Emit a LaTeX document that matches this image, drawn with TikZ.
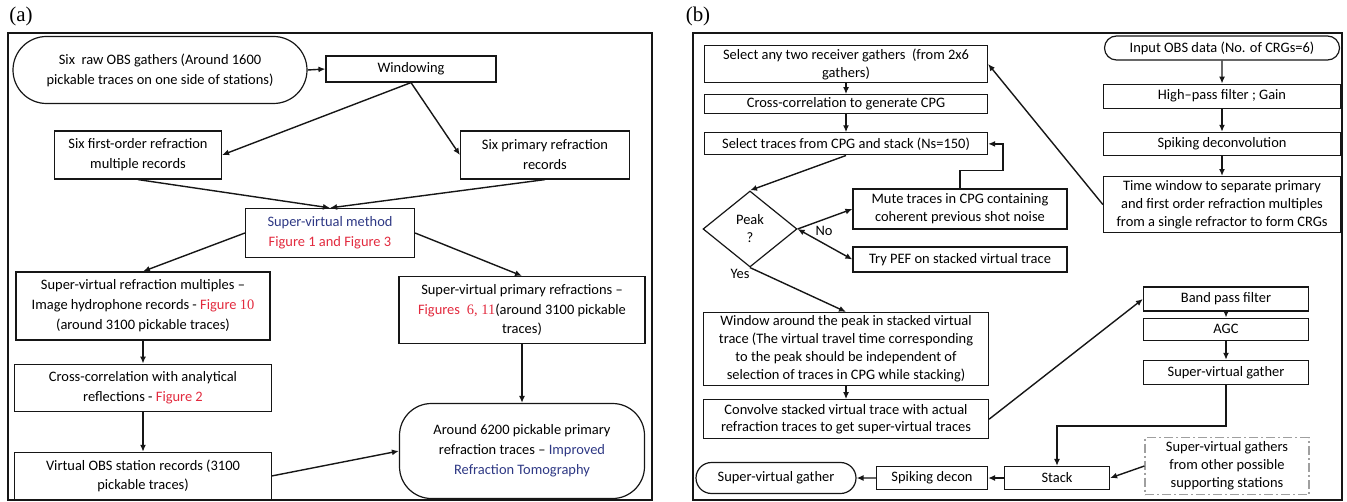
\documentclass[tikz,border=0pt]{standalone}
\usepackage{fontspec}
\setmainfont{Carlito}
\newfontfamily\serifnum{Liberation Serif}
\usepackage{xcolor}
\usepackage{tikz}
\usetikzlibrary{shapes.geometric, shapes.misc, arrows.meta, positioning, calc}
\definecolor{figred}{RGB}{226, 42, 62}
\definecolor{svblue}{RGB}{46, 56, 132}
\definecolor{stroke}{RGB}{22, 22, 22}
\tikzset{
  procbox/.style={
    rectangle, draw=stroke, line width=1.2bp,
    align=center, inner sep=1bp
  },
  termbox/.style={
    rounded rectangle, draw=stroke, line width=1.2bp,
    align=center, inner sep=1bp
  },
  decisionbox/.style={
    diamond, draw=stroke, line width=1.2bp, align=center, inner sep=0pt
  },
  dashdotbox/.style={
    procbox, draw=gray!75, dash pattern=on 9bp off 3bp on 2bp off 3bp
  },
  flowline/.style={
    draw=stroke, -{Latex[length=7bp, width=6bp]}, line width=1.4bp
  },
  bidirline/.style={
    draw=stroke, {Latex[length=7bp, width=6bp]}-{Latex[length=7bp, width=6bp]}, line width=1.4bp
  },
  panelframe/.style={draw=stroke, line width=2bp},
  panellabel/.style={font=\serifnum\fontsize{21}{21}\selectfont, inner sep=0pt}
}

\begin{document}
\begin{tikzpicture}[x=1bp, y=-1bp]

  \useasboundingbox (0,0) rectangle (1347,502);

  % Panel frames and labels
  \node[panellabel] (labA) at (21,16) {(a)};
  \node[panellabel] (labB) at (698,16) {(b)};
  \draw[panelframe] (8,33) rectangle (652,500);
  \draw[panelframe] (693,33) rectangle (1342,500);

  % Panel (a): super-virtual workflow
  \begin{scope}[every node/.append style={font=\fontsize{14.5}{20}\selectfont}]
    \node[termbox, minimum width=296bp, minimum height=67bp] (rawobs) at (160,70)
      {Six\ \ raw OBS gathers (Around 1600\\pickable traces on one side of stations)};
    \node[procbox, minimum width=170bp, minimum height=26bp] (windowing) at (411,69) {Windowing};
    \node[procbox, minimum width=167bp, minimum height=48bp] (firstord) at (138,155)
      {Six first-order refraction\\multiple records};
    \node[procbox, minimum width=169bp, minimum height=48bp] (primrec) at (545,155)
      {Six primary refraction\\records};
    \node[procbox, minimum width=169bp, minimum height=49bp] (svmethod) at (330,233)
      {\color{svblue}Super-virtual method\\\color{figred}Figure 1 and Figure 3};
    \node[procbox, minimum width=254bp, minimum height=68bp] (svmult) at (143,306)
      {Super-virtual refraction multiples --\\Image hydrophone records - {\color{figred}Figure\ {\serifnum 10}}\\(around 3100 pickable traces)};
    \node[procbox, minimum width=257bp, minimum height=47bp, below=23bp of svmult] (xcorr)
      {Cross-correlation with analytical\\reflections - {\color{figred}Figure 2}};
    \node[procbox, minimum width=257bp, minimum height=47bp, below=40bp of xcorr] (vobs)
      {Virtual OBS station records (3100\\pickable traces)};
    \node[procbox, minimum width=246bp, minimum height=67bp] (svprim) at (522,310)
      {Super-virtual primary refractions --\\{\color{figred}Figures {\serifnum\ 6, 11}}(around 3100 pickable\\traces)};
    \node[procbox, rounded corners=32bp, minimum width=245bp, minimum height=95bp] (around) at (522,451)
      {Around 6200 pickable primary\\refraction traces -- {\color{svblue}Improved}\\\color{svblue}Refraction Tomography};
  \end{scope}

  \draw[flowline] (rawobs.east) -- (windowing.west);
  \draw[flowline] (windowing.south) -- (firstord.east);
  \draw[flowline] (windowing.south) -- (primrec.west);
  \draw[flowline] (firstord.south) -- (svmethod.north);
  \draw[flowline] (primrec.south) -- (svmethod.north);
  \draw[flowline] (svmethod.west) -- (svmult.north);
  \draw[flowline] (svmethod.east) -- (svprim.north);
  \draw[flowline] (svmult) -- (xcorr);
  \draw[flowline] (xcorr) -- (vobs);
  \draw[flowline] (vobs.east) -- (around.west);
  \draw[flowline] (svprim) -- (around);

  % Panel (b): processing sequence
  \begin{scope}[every node/.append style={font=\fontsize{14.5}{18}\selectfont}]
    \node[termbox, minimum width=237bp, minimum height=24bp] (inputobs) at (1222,48)
      {Input OBS data (No. of CRGs=6)};
    \node[procbox, minimum width=237bp, minimum height=24bp, below=23bp of inputobs] (highpass)
      {High--pass filter ; Gain};
    \node[procbox, minimum width=237bp, minimum height=23bp, below=23bp of highpass] (spdeconv)
      {Spiking deconvolution};
    \node[procbox, minimum width=237bp, minimum height=56bp, below=20bp of spdeconv] (timewin)
      {Time window to separate primary\\and first order refraction multiples\\from a single refractor to form CRGs};

    \node[procbox, minimum width=283bp, minimum height=37bp] (selany) at (846,64)
      {Select any two receiver gathers\ \ (from 2x6\\gathers)};
    \node[procbox, minimum width=283bp, minimum height=19bp, below=11bp of selany] (xcpg)
      {Cross-correlation to generate CPG};
    \node[procbox, minimum width=283bp, minimum height=22bp, below=18bp of xcpg] (seltr)
      {Select traces from CPG and stack (Ns=150)};
    \node[decisionbox, minimum width=94bp, minimum height=76bp] (peak) at (750,229) {Peak\\?};
    \node[procbox, minimum width=214bp, minimum height=40bp] (mute) at (960,209)
      {Mute traces in CPG containing\\coherent previous shot noise};
    \node[procbox, minimum width=214bp, minimum height=25bp] (trypef) at (960,259.5)
      {Try PEF on stacked virtual trace};
    \node (nolab) at (824,231) {No};
    \node (yeslab) at (740,274) {Yes};

    \node[procbox, minimum width=285bp, minimum height=73bp] (winpeak) at (846,349)
      {Window around the peak in stacked virtual\\trace (The virtual travel time corresponding\\to the peak should be independent of\\selection of traces in CPG while stacking)};
    \node[procbox, minimum width=285bp, minimum height=39bp, below=13bp of winpeak] (convolve)
      {Convolve stacked virtual trace with actual\\refraction traces to get super-virtual traces};

    \node[procbox, minimum width=165bp, minimum height=24bp] (bandpass) at (1226,299) {Band pass filter};
    \node[procbox, minimum width=165bp, minimum height=22bp, below=6bp of bandpass] (agc) {AGC};
    \node[procbox, minimum width=165bp, minimum height=24bp, below=19bp of agc] (svgath) {Super-virtual gather};

    \node[procbox, minimum width=105bp, minimum height=23bp] (stack) at (1057,478) {Stack};
    \node[procbox, minimum width=111bp, minimum height=23bp] (spdecon) at (932,478) {Spiking decon};
    \node[termbox, minimum width=162bp, minimum height=31bp] (svout) at (776,478) {Super-virtual gather};
    \node[dashdotbox, minimum width=164bp, minimum height=57bp] (others) at (1227,466)
      {Super-virtual gathers\\from other possible\\supporting stations};
  \end{scope}

  \draw[flowline] (inputobs) -- (highpass);
  \draw[flowline] (highpass) -- (spdeconv);
  \draw[flowline] (spdeconv) -- (timewin);
  \draw[flowline] (timewin.west) -- (selany.east);
  \draw[flowline] (selany) -- (xcpg);
  \draw[flowline] (xcpg) -- (seltr);
  \draw[flowline] (seltr.south) -- (peak.north);
  \draw[flowline] (peak.east) -- (mute.west);
  \draw[bidirline] (peak.east) -- (trypef.west);
  \draw[flowline] (mute.north) -- ++(0,-18) -| ($(seltr.east)+(15,0)$) -- (seltr.east);
  \draw[flowline] (peak.south) -- (winpeak.north);
  \draw[flowline] (winpeak) -- (convolve);
  \draw[flowline] (convolve.east) -- (bandpass.west);
  \draw[flowline] (bandpass) -- (agc);
  \draw[flowline] (agc) -- (svgath);
  \draw[flowline] (svgath.south) -- ++(0,41) -| (stack.north);
  \draw[flowline] (others.west) -- (stack.east);
  \draw[flowline] (stack) -- (spdecon);
  \draw[flowline] (spdecon) -- (svout);

\end{tikzpicture}
\end{document}
